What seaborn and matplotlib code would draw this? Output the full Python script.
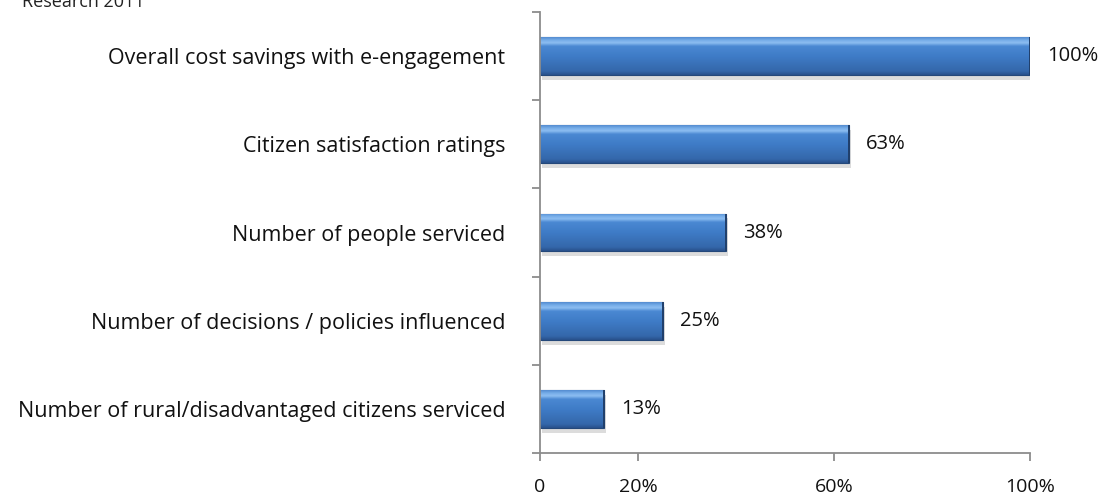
import numpy as np
import pandas as pd
import matplotlib
matplotlib.use("Agg")
import matplotlib.pyplot as plt
import matplotlib.patheffects as pe
from matplotlib.colors import LinearSegmentedColormap
import seaborn as sns

# Measures of e-engagement success
categories = [
    "Overall cost savings with e-engagement",
    "Citizen satisfaction ratings",
    "Number of people serviced",
    "Number of decisions / policies influenced",
    "Number of rural/disadvantaged citizens serviced",
]
values = [100, 63, 38, 25, 13]
value_labels = ["100%", "63%", "38%", "25%", "13%"]
x_ticks = [0, 20, 60, 100]
x_tick_labels = ["0", "20%", "60%", "100%"]
source_note = "Research 2011"

df = pd.DataFrame({"category": categories, "value": values})

sns.set_theme(style="white")
plt.rcParams["font.family"] = ["Open Sans", "DejaVu Sans"]

fig = plt.figure(figsize=(11.07, 5.0), dpi=100)
ax = fig.add_axes([540 / 1107, 47 / 500, 490 / 1107, 441 / 500])

sns.barplot(data=df, x="value", y="category", order=categories, orient="h",
            color="#3d78c2", width=0.43, ax=ax, edgecolor="#24487a", linewidth=0.8)

# glossy blue fill: light band on top, darker toward the bottom
grad_cmap = LinearSegmentedColormap.from_list(
    "bar_gloss",
    [(0.0, "#28508a"), (0.1, "#3467aa"), (0.5, "#3f7cc7"),
     (0.76, "#4a88d2"), (0.85, "#8dbef1"), (0.92, "#76ade9"), (1.0, "#538bd0")],
)
grad = np.linspace(0, 1, 256).reshape(-1, 1)
for patch in ax.patches:
    patch.set_path_effects([
        pe.SimplePatchShadow(offset=(1.5, -3.5), shadow_rgbFace="#a8a8a8", alpha=0.4),
        pe.Normal(),
    ])
    x0, y0 = patch.get_x(), patch.get_y()
    w, h = patch.get_width(), patch.get_height()
    im = ax.imshow(grad, cmap=grad_cmap, aspect="auto", origin="upper",
                   extent=(x0, x0 + w, y0, y0 + h), zorder=patch.get_zorder() + 0.1,
                   interpolation="bilinear")
    im.set_clip_path(patch)
    # darker bevel on the bar's end
    ax.plot([x0 + w, x0 + w], [y0, y0 + h], color="#203f6b", lw=1.4,
            zorder=patch.get_zorder() + 0.2, solid_capstyle="butt")

for i, (v, lab) in enumerate(zip(values, value_labels)):
    ax.text(v + 3.5, i, lab, va="center", ha="left", fontsize=14.5, color="#111111")

ax.set_xlim(0, 100)
ax.set_ylim(len(categories) - 0.5, -0.5)
ax.set_xticks(x_ticks)
ax.set_xticklabels(x_tick_labels)
ax.set_yticks(np.arange(len(categories) + 1) - 0.5, minor=True)
ax.set_yticks(np.arange(len(categories)))
ax.set_yticklabels(categories)
ax.set_xlabel("")
ax.set_ylabel("")

for side in ("top", "right"):
    ax.spines[side].set_visible(False)
for side in ("left", "bottom"):
    ax.spines[side].set_color("#8c8c8c")
    ax.spines[side].set_linewidth(1.3)

ax.tick_params(axis="y", which="major", length=0, pad=25, labelsize=15.5, labelcolor="#111111")
ax.tick_params(axis="y", which="minor", left=True, length=6, width=1.3, color="#8c8c8c")
ax.tick_params(axis="x", which="major", bottom=True, length=6, width=1.3, color="#8c8c8c",
               pad=12, labelsize=14, labelcolor="#111111")

fig.text(22 / 1107, 1 - 7 / 500, source_note, ha="left", va="baseline",
         fontsize=13, color="#222222")

fig.savefig("out.png", dpi=100, facecolor="white")
